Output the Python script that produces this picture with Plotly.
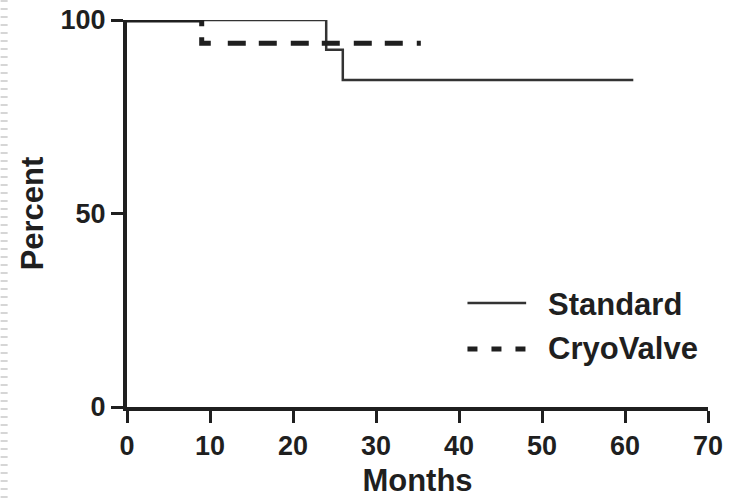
import plotly.graph_objects as go

# Kaplan-Meier style step data (months, percent free of event)
standard_months = [0, 24, 26, 61]
standard_percent = [100, 92.3, 84.5, 84.5]

cryo_months = [0, 9, 35.4]
cryo_percent = [100, 94, 94]

x_ticks = [0, 10, 20, 30, 40, 50, 60, 70]
y_ticks = [0, 50, 100]

legend_names = ["Standard", "CryoValve"]

ink = "#1f1f1f"
font_family = "Liberation Sans, Arial, sans-serif"

fig = go.Figure()

fig.add_trace(go.Scatter(
    x=standard_months, y=standard_percent, name=legend_names[0],
    mode="lines", line=dict(color="#333333", width=2.5, shape="hv"),
    showlegend=False,
))
# dashed curve: the pattern is laid out so the shared 100% segment reads as solid
fig.add_trace(go.Scatter(
    x=cryo_months, y=cryo_percent, name=legend_names[1],
    mode="lines",
    line=dict(color=ink, width=5, shape="hv",
              dash="81px,11px,15px,17px,18px,13px,18px,14px,18px,13px,18px,14px,18px,13px,18px,14px,18px,20px"),
    showlegend=False,
))

axis_common = dict(
    showgrid=False, zeroline=False, showline=True, linecolor=ink, linewidth=4,
    ticks="outside", ticklen=12, tickwidth=3, tickcolor=ink, automargin=False,
    tickfont=dict(family=font_family, size=27, color=ink, weight="bold"),
)

fig.update_layout(
    width=733, height=498,
    margin=dict(l=127, r=25, t=20, b=91),
    paper_bgcolor="white", plot_bgcolor="white",
    font=dict(family=font_family, color=ink),
    xaxis=dict(range=[0, 70], tickvals=x_ticks,
               title=dict(text="Months", font=dict(size=31, color=ink, weight="bold"), standoff=17),
               **axis_common),
    yaxis=dict(range=[0, 100], tickvals=y_ticks,
               title=dict(text="Percent", font=dict(size=31, color=ink, weight="bold"), standoff=9),
               **axis_common),
    showlegend=False,
)

# key: line samples and labels inside the plot area
fig.add_shape(type="line", xref="paper", yref="paper",
              x0=0.586, x1=0.687, y0=0.269, y1=0.269,
              line=dict(color="#333333", width=2.5))
fig.add_shape(type="line", xref="paper", yref="paper",
              x0=0.586, x1=0.687, y0=0.150, y1=0.150,
              line=dict(color=ink, width=5, dash="10px,14px"))
for name, ypos in zip(legend_names, [0.264, 0.152]):
    fig.add_annotation(text=name, xref="paper", yref="paper", x=0.721, y=ypos,
                       xanchor="left", yanchor="middle", showarrow=False,
                       font=dict(family=font_family, size=31, color=ink, weight="bold"))

# faint dotted rule along the left page edge
fig.add_shape(type="line", xref="paper", yref="paper",
              x0=-0.2115, x1=-0.2115, y0=1.052, y1=-0.235,
              line=dict(color="#d6d6d6", width=7, dash="2px,6px"))

fig.write_html("out.html")
